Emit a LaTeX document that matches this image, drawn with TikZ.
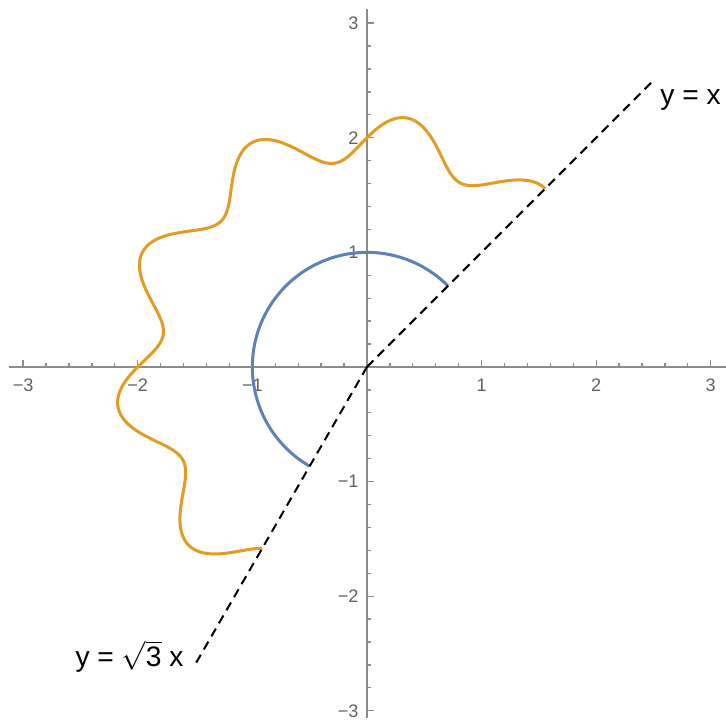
\documentclass[tikz,border=0pt]{standalone}
\usepackage{fontspec}
\setmainfont{Liberation Sans}
\usepackage{xcolor}
\usepackage{tikz}
\usetikzlibrary{positioning}

\definecolor{curveorange}{rgb}{0.88,0.61,0.14}
\definecolor{curveblue}{rgb}{0.37,0.51,0.71}
\definecolor{axisgray}{gray}{0.55}
\definecolor{labelgray}{gray}{0.38}

\begin{document}
\begin{tikzpicture}[x=2cm, y=2cm,
  axis/.style={draw=axisgray, line width=0.65pt},
  ticklabel/.style={text=labelgray, font=\fontsize{9}{10}\selectfont, inner sep=0pt},
  wave/.style={draw=curveorange, line width=1.5pt, line join=round},
  circlepart/.style={draw=curveblue, line width=1.5pt},
  ray/.style={draw=black, line width=1pt, dash pattern=on 4.5pt off 3pt},
  eqlabel/.style={font=\fontsize{14}{16}\selectfont, inner sep=0pt}]

  \useasboundingbox (-3.202,-3.072) rectangle (3.133,3.202);

  % axes
  \coordinate (O) at (0,0);
  \coordinate (xmin) at (-3.12,0);
  \coordinate (xmax) at (3.14,0);
  \coordinate (ymin) at (0,-3.06);
  \coordinate (ymax) at (0,3.12);
  \draw[axis] (xmin) -- (xmax);
  \draw[axis] (ymin) -- (ymax);

  % ticks
  \foreach \i in {-15,...,15} {
    \draw[axis] (\i/5,0) -- ++(0,2pt);
    \draw[axis] (0,\i/5) -- ++(2pt,0);
  }
  \foreach \v in {-3,-2,-1,1,2,3} {
    \draw[axis] (\v,0) -- ++(0,3.5pt);
    \draw[axis] (0,\v) -- ++(3.5pt,0);
  }
  \foreach \v/\s [count=\k] in {-3/−3,-2/−2,-1/−1,1/1,2/2,3/3} {
    \node[ticklabel, anchor=base] (xlab\k) at (\v,-0.218) {\s};
    \node[ticklabel, anchor=base east] (ylab\k) at (-0.07,\v-0.055) {\s};
  }

  % curves
  \draw[wave] plot[domain=45:240, samples=500, smooth, variable=\t]
    ({(2+0.2*sin(10*\t))*cos(\t)}, {(2+0.2*sin(10*\t))*sin(\t)});
  \draw[circlepart] plot[domain=45:240, samples=120, smooth, variable=\t]
    ({cos(\t)}, {sin(\t)});

  % rays
  \coordinate (rayA) at (2.5,2.5);
  \coordinate (rayB) at (240:3);
  \draw[ray] (O) -- (rayA);
  \draw[ray] (O) -- (rayB);

  \node[eqlabel, anchor=base west] (lineA) at (2.557,2.286) {y = x};
  \node[eqlabel, anchor=base east] (lineB) at (-1.597,-2.618) {y = $\sqrt{\mbox{3}}$ x};
\end{tikzpicture}
\end{document}
